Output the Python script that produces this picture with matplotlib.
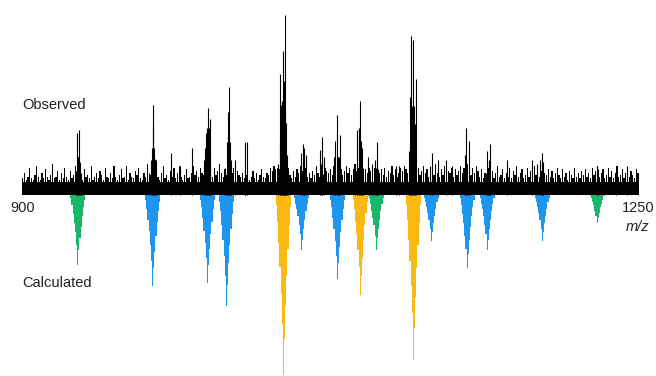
import numpy as np
import matplotlib.pyplot as plt

# observed spectrum: baseline noise, one value per m/z unit from 900 to 1250
noise_floor = 7
noise_int = [
    9, 12, 8, 10, 15, 9, 8, 11, 16, 10, 8, 12, 9, 14, 10, 8, 11, 17, 9, 10, 13, 8, 12, 9, 15,
    10, 8, 13, 9, 11, 16, 10, 9, 12, 8, 14, 10, 11, 9, 16, 8, 10, 12, 9, 13, 11, 8, 15, 10, 9,
    12, 9, 16, 10, 8, 11, 14, 9, 10, 16, 8, 12, 10, 9, 13, 11, 15, 9, 8, 12, 10, 17, 9, 11, 13,
    9, 14, 10, 8, 12, 16, 9, 11, 8, 13, 10, 15, 9, 12, 16, 10, 8, 11, 14, 9, 10, 12, 16, 11, 13,
    10, 15, 12, 11, 14, 13, 16, 12, 10, 15, 11, 13, 17, 12, 10, 14, 11, 16, 10, 12, 15, 9, 13, 11, 10,
    12, 9, 11, 15, 8, 10, 13, 9, 12, 8, 11, 14, 10, 9, 12, 11, 15, 13, 16, 14, 15, 14, 17, 13, 15,
    12, 15, 11, 9, 13, 10, 14, 12, 16, 13, 11, 15, 10, 12, 9, 13, 11, 16, 12, 10, 14, 11, 15, 13, 12,
    14, 11, 16, 13, 15, 12, 14, 11, 13, 16, 12, 15, 11, 14, 17, 13, 15, 12, 16, 11, 14, 12, 15, 13, 16,
    15, 13, 17, 12, 14, 11, 15, 10, 13, 12, 16, 11, 14, 10, 12, 15, 13, 16, 14, 12, 15, 13, 17, 14, 12,
    15, 11, 13, 16, 12, 14, 10, 15, 13, 11, 17, 12, 10, 14, 11, 16, 9, 13, 12, 15, 10, 14, 11, 13, 16,
    12, 15, 13, 17, 14, 11, 15, 12, 16, 13, 10, 14, 9, 12, 11, 15, 10, 13, 9, 12, 16, 10, 11, 14, 9,
    12, 10, 15, 9, 13, 11, 16, 10, 12, 14, 9, 11, 15, 10, 13, 12, 16, 11, 14, 10, 13, 15, 12, 11, 14,
    10, 13, 9, 12, 15, 11, 9, 14, 10, 12, 8, 13, 11, 9, 15, 10, 12, 9, 13, 11, 14, 10, 12, 9, 15,
    11, 13, 16, 10, 12, 14, 9, 11, 15, 10, 13, 9, 12, 16, 10, 11, 14, 9, 12, 15, 10, 13, 11, 9, 14,
    12,
]
noise_mz = np.arange(900, 900 + len(noise_int))

# observed spectrum: peak clusters and taller spikes (m/z, relative intensity %)
peak_mz = [
    930.1, 930.7, 931.25, 931.7, 932.2, 932.7, 933.2,
    971.9, 972.7, 973.3, 973.9, 974.3, 974.7, 975.3, 976.1, 984.1, 989.2, 996.4,
    1003.0, 1003.7, 1004.5, 1005.0, 1005.5, 1006.0, 1006.4, 1006.8,
    1015.3, 1016.2, 1016.6, 1017.0, 1017.4, 1017.9, 1018.75, 1020.6,
    1026.3, 1026.7, 1027.3,
    1045.1, 1046.3, 1046.6, 1047.0, 1047.4, 1047.8, 1048.1, 1048.5, 1048.75, 1049.0,
    1049.4, 1049.9, 1050.5, 1051.1,
    1058.35, 1059.5, 1059.8, 1060.2, 1061.4,
    1069.3, 1069.9, 1070.3, 1071.2,
    1077.3, 1077.8, 1078.8, 1079.3, 1079.8, 1080.7,
    1089.2, 1089.9, 1091.1, 1091.5, 1092.05, 1092.5, 1093.0, 1093.75,
    1096.4, 1098.9, 1100.2, 1100.85, 1101.5, 1102.3,
    1112.5, 1114.2, 1119.7, 1120.45, 1121.0, 1121.4, 1121.75, 1122.3, 1123.1, 1123.7,
    1131.8, 1132.8, 1136.4, 1140.7, 1144.1,
    1151.3, 1151.8, 1152.3, 1152.8, 1153.6,
    1163.3, 1164.0, 1164.5, 1165.2, 1165.9,
    1175.6, 1189.6, 1192.4, 1194.3, 1195.3, 1195.7, 1196.2,
    1226.5, 1227.4, 1237.5, 1243.6,
]
peak_int = [
    13, 34, 21, 21, 36, 18, 12,
    12, 19, 26, 38, 50, 26, 20, 19, 23, 16, 26,
    19, 26, 34, 37, 48, 37, 42, 26,
    15, 29, 46, 29, 60, 29, 19, 19,
    29, 13, 29,
    17, 30, 67, 50, 52, 55, 80, 62, 63, 100,
    45, 40, 22, 15,
    23, 28, 13, 26, 22,
    25, 17, 32, 21,
    21, 30, 44, 21, 21, 33,
    15, 36, 37, 30, 52, 30, 26, 15,
    21, 17, 19, 15, 29, 14,
    16, 16, 24, 54, 88, 49, 86, 49, 39, 64,
    16, 23, 19, 19, 16,
    22, 13, 37, 13, 30,
    12, 24, 12, 19, 28,
    19, 19, 17, 19, 23, 10, 18,
    16, 14, 13, 16,
]

# calculated isotope envelopes (drawn downwards)
calc_mz = [931.3, 973.9, 1005.1, 1015.9, 1048.3, 1058.5, 1079.0, 1092.0,
           1101.1, 1122.2, 1132.4, 1152.8, 1164.2, 1195.5, 1226.7]
calc_group = ['green', 'blue', 'blue', 'blue', 'orange', 'blue', 'blue', 'orange',
              'green', 'orange', 'blue', 'blue', 'blue', 'blue', 'green']
calc_int = [
    [2, 6, 11, 16, 21, 28, 39, 31, 24, 18, 12, 7, 3],
    [3, 8, 14, 20, 28, 37, 51, 41, 32, 23, 15, 9, 4],
    [3, 7, 13, 20, 27, 35, 49, 39, 30, 22, 15, 8, 3],
    [4, 9, 17, 25, 34, 45, 62, 50, 38, 28, 19, 11, 4],
    [6, 15, 27, 40, 55, 72, 100, 80, 62, 45, 30, 17, 7],
    [2, 5, 8, 12, 17, 22, 31, 25, 19, 14, 9, 5, 2],
    [3, 7, 13, 19, 26, 34, 47, 38, 29, 21, 14, 8, 3],
    [3, 8, 15, 22, 31, 40, 56, 45, 35, 25, 17, 10, 4],
    [2, 5, 9, 13, 17, 23, 31, 24, 19, 14, 9, 5, 2],
    [6, 14, 25, 37, 51, 66, 92, 74, 57, 41, 28, 16, 6],
    [2, 4, 7, 10, 14, 19, 26, 21, 16, 12, 8, 4, 2],
    [2, 6, 11, 16, 23, 30, 41, 33, 25, 18, 12, 7, 3],
    [2, 5, 8, 12, 17, 22, 31, 25, 19, 14, 9, 5, 2],
    [2, 4, 7, 10, 14, 19, 26, 21, 16, 12, 8, 4, 2],
    [1, 2, 4, 6, 9, 12, 16, 13, 10, 7, 5, 3, 1],
]
colors = {'green': '#17B86A', 'blue': '#1E96F0', 'orange': '#FDB913'}
step = 0.65  # m/z spacing of the isotope lines

plt.rcParams['font.family'] = ['Liberation Sans', 'DejaVu Sans']

fig = plt.figure(figsize=(6.56, 3.76), dpi=100)
ax = fig.add_axes([0, 0, 1, 1])

ax.fill_between(noise_mz, 0, noise_floor, color='black', linewidth=0)
ax.bar(noise_mz, noise_int, width=0.7, color='black', linewidth=0)
ax.vlines(peak_mz, 0, peak_int, color='black', linewidth=0.8)

for mz, grp, vals in zip(calc_mz, calc_group, calc_int):
    vals = np.array(vals)
    edges = mz + (np.arange(len(vals) + 1) - (len(vals) - 1) / 2 - 0.5) * step
    ax.stairs(-vals, edges, baseline=0, fill=True, color=colors[grp], linewidth=0)

ax.set_xlim(887.1, 1260.2)
ax.set_ylim(-100.8, 108.1)
ax.axis('off')

fig.text(22 / 656, 1 - 105 / 376, 'Observed', fontsize=10.5, ha='left', va='center',
         color='#222222')
fig.text(22 / 656, 1 - 283 / 376, 'Calculated', fontsize=10.5, ha='left', va='center',
         color='#222222')
fig.text(10 / 656, 1 - 208 / 376, '900', fontsize=10.5, ha='left', va='center',
         color='#222222')
fig.text(622 / 656, 1 - 208 / 376, '1250', fontsize=10.5, ha='left', va='center',
         color='#222222')
fig.text(638 / 656, 1 - 227 / 376, 'm/z', fontsize=10.5, ha='center', va='center',
         style='italic', color='#222222')

fig.savefig('out.png', dpi=100)
